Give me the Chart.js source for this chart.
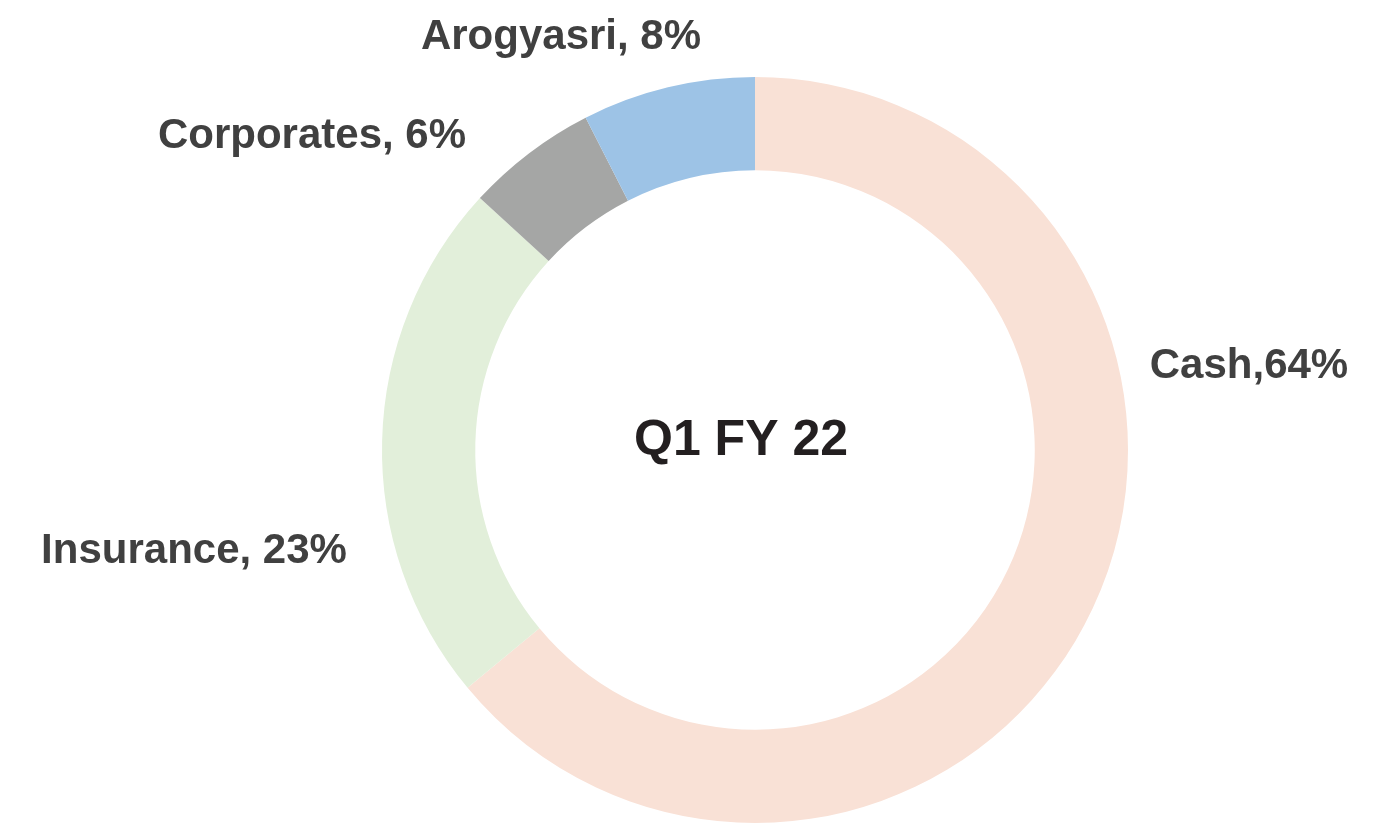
<!DOCTYPE html>
<html>
<head>
<meta charset="utf-8">
<script src="https://cdn.jsdelivr.net/npm/chart.js@4.4.0/dist/chart.umd.min.js"></script>
<style>
  html, body { margin: 0; padding: 0; background: #fff; }
  #wrap { width: 1382px; height: 825px; position: relative; }
</style>
</head>
<body>
<div id="wrap"><canvas id="mixChart"></canvas></div>
<script>
// revenue mix (arc sizes), labels as printed
const categories = ['Cash', 'Insurance', 'Corporates', 'Arogyasri'];
const shares = [64.0, 22.8, 5.7, 7.5];
const labelTexts = ['Cash,64%', 'Insurance, 23%', 'Corporates, 6%', 'Arogyasri, 8%'];
const centerTitle = 'Q1 FY 22';

const colors = ['#F9E1D6', '#E2EFDA', '#A5A6A5', '#9DC3E6'];

// where each label sits (x centre, baseline), same order as categories
const labelSpots = [
  [1249, 378],
  [194, 563],
  [312, 148],
  [561, 49]
];

const labelPlugin = {
  id: 'sliceLabels',
  afterDraw(chart) {
    const c = chart.ctx;
    c.save();
    c.textAlign = 'center';
    c.textBaseline = 'alphabetic';
    c.font = 'bold 42px "Liberation Sans", Arial, sans-serif';
    c.fillStyle = '#404040';
    labelTexts.forEach((t, i) => {
      c.fillText(t, labelSpots[i][0], labelSpots[i][1]);
    });
    c.font = 'bold 50px "Liberation Sans", Arial, sans-serif';
    c.fillStyle = '#231F20';
    c.fillText(centerTitle, 741, 455);
    c.restore();
  }
};

new Chart(document.getElementById('mixChart'), {
  type: 'doughnut',
  data: {
    labels: categories,
    datasets: [{
      data: shares,
      backgroundColor: colors,
      borderWidth: 0
    }]
  },
  options: {
    responsive: true,
    maintainAspectRatio: false,
    animation: false,
    cutout: '75%',
    layout: { padding: { top: 77, bottom: 2, left: 382, right: 254 } },
    plugins: {
      legend: { display: false },
      tooltip: { enabled: false }
    }
  },
  plugins: [labelPlugin]
});
</script>
</body>
</html>
